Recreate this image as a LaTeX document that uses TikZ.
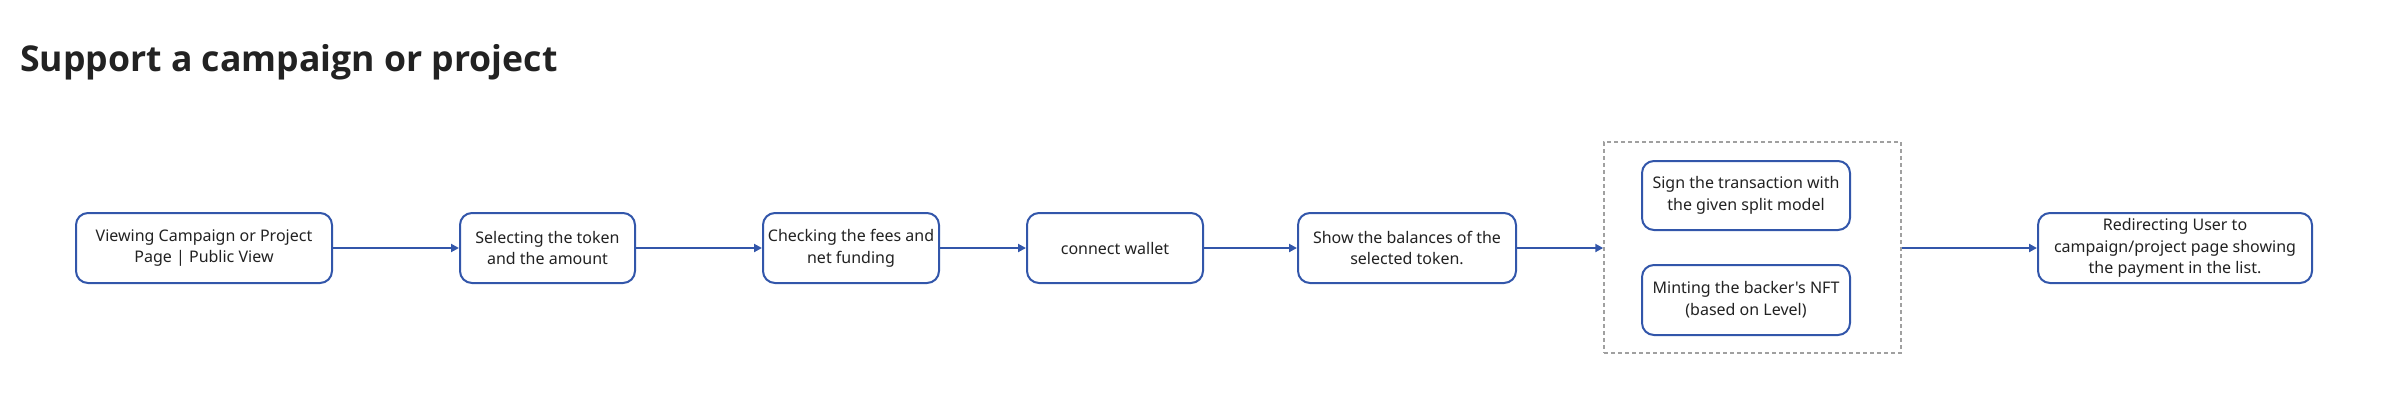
\documentclass[tikz,border=0pt]{standalone}
\usepackage{fontspec}
\setmainfont{Noto Sans}[Ligatures=TeXOff]
\newfontfamily\titlefont{Open Sans}
\usetikzlibrary{arrows.meta,positioning}
\definecolor{flowblue}{RGB}{50,86,170}
\definecolor{txtgray}{RGB}{34,34,34}
\definecolor{grpgray}{RGB}{160,160,160}
\tikzset{
  stepbox/.style={draw=flowblue, line width=2pt, rounded corners=12pt, fill=white,
    align=center, text=txtgray, inner sep=0pt, minimum height=70pt,
    font=\fontsize{16}{21.7}\selectfont},
  groupbox/.style={draw=grpgray, line width=1.5pt, dash pattern=on 4pt off 3pt, inner sep=0pt},
  flow/.style={draw=flowblue, line width=2pt, -{Triangle[length=8pt,width=8pt]}},
  titletext/.style={anchor=base west, inner sep=0pt, text=txtgray, font=\titlefont\bfseries\fontsize{35.6}{42}\selectfont}
}
\begin{document}
\begin{tikzpicture}[x=1pt,y=-1pt]
\useasboundingbox (0,0) rectangle (2381,418);
\node[titletext] (title) at (20,71) {Support a campaign or project};

\node[stepbox, minimum width=256pt] (b1) at (204,248) {Viewing Campaign or Project\\Page | Public View};
\node[stepbox, minimum width=175pt] (b2) at (547.5,248) {Selecting the token\\and the amount};
\node[stepbox, minimum width=176pt] (b3) at (851,248) {Checking the fees and\\net funding};
\node[stepbox, minimum width=176pt] (b4) at (1115,248) {connect wallet};
\node[stepbox, minimum width=218pt] (b5) at (1407,248) {Show the balances of the\\selected token.};

\node[groupbox, minimum width=297pt, minimum height=211pt] (grp) at (1752.5,247.5) {};
\node[stepbox, minimum width=208pt, minimum height=69pt] (b6) at (1746,195.5) {Sign the transaction with\\the given split model};
\node[stepbox, minimum width=208pt, minimum height=70pt] (b7) at (1746,300) {Minting the backer's NFT\\(based on Level)};

\node[stepbox, minimum width=274pt] (b8) at (2175,248) {Redirecting User to\\campaign/project page showing\\the payment in the list.};

\draw[flow] (b1) -- (b2);
\draw[flow] (b2) -- (b3);
\draw[flow] (b3) -- (b4);
\draw[flow] (b4) -- (b5);
\draw[flow] (b5.east) -- (b5.east -| grp.west);
\draw[flow] (grp.east |- b8.west) -- (b8.west);
\end{tikzpicture}
\end{document}
